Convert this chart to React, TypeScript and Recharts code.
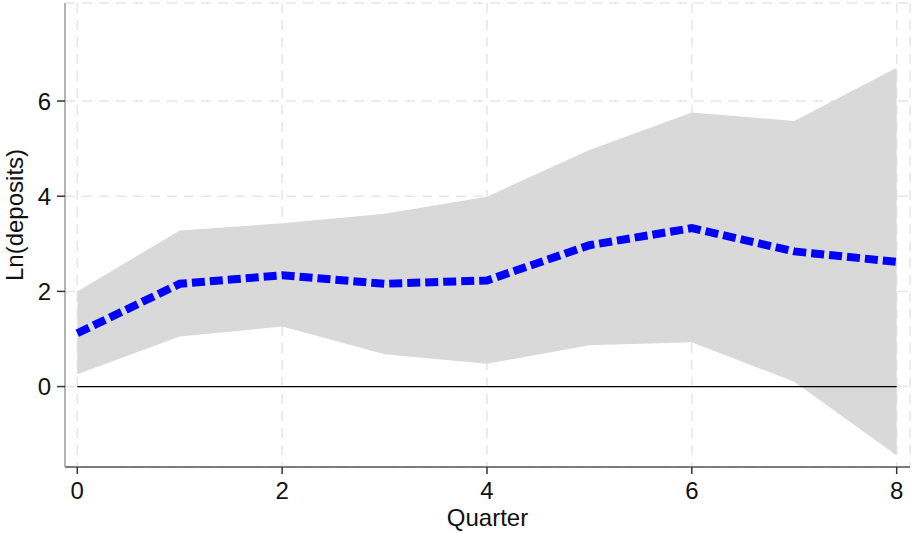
import { Area, CartesianGrid, ComposedChart, Label, Line, ReferenceLine, XAxis, YAxis } from "recharts";

const quarters = [0, 1, 2, 3, 4, 5, 6, 7, 8];
const irf = [1.12, 2.16, 2.34, 2.16, 2.23, 2.97, 3.33, 2.84, 2.62];
const upper = [2.0, 3.28, 3.43, 3.63, 3.99, 4.97, 5.76, 5.58, 6.7];
const lower = [0.26, 1.05, 1.26, 0.68, 0.48, 0.87, 0.93, 0.1, -1.45];

const xTicks = [0, 2, 4, 6, 8];
const yTicks = [0, 2, 4, 6];

const font = "'Liberation Sans', Arial, Helvetica, sans-serif";

const data = quarters.map((q, i) => ({
  q,
  irf: irf[i],
  band: [lower[i], upper[i]],
}));

function YTitle() {
  return (
    <text
      x={14}
      y={215}
      transform="rotate(-90 14 215)"
      textAnchor="middle"
      dominantBaseline="central"
      fontFamily={font}
      fontSize={24}
      fill="#111"
    >
      Ln(deposits)
    </text>
  );
}

export default function App() {
  return (
    <div style={{ position: "absolute", left: 0, top: 0, background: "#fff" }}>
      <ComposedChart width={912} height={533} data={data} margin={{ top: 3, right: 2, bottom: 0, left: 0 }}>
        <CartesianGrid stroke="#e6e6e6" strokeDasharray="10 7" strokeWidth={1.5} />
        <XAxis
          type="number"
          dataKey="q"
          domain={[-0.12, 8.13]}
          ticks={xTicks}
          allowDataOverflow
          height={66}
          axisLine={{ stroke: "#555", strokeWidth: 1.5 }}
          tickLine={{ stroke: "#333", strokeWidth: 1.5 }}
          tickSize={7}
          tickMargin={8}
          tick={{ fill: "#111", fontSize: 24, fontFamily: font }}
        >
          <Label value="Quarter" position="insideBottom" offset={7} fill="#111" fontSize={24} fontFamily={font} />
        </XAxis>
        <YAxis
          type="number"
          domain={[-1.69, 8.06]}
          ticks={yTicks}
          allowDataOverflow
          width={65}
          axisLine={{ stroke: "#b3b3b3", strokeWidth: 2 }}
          tickLine={{ stroke: "#333", strokeWidth: 1.5 }}
          tickSize={8}
          tickMargin={6}
          tick={{ fill: "#111", fontSize: 24, fontFamily: font }}
          label={{ content: <YTitle /> }}
        />
        <Area
          type="linear"
          dataKey="band"
          fill="#d9d9d9"
          fillOpacity={1}
          stroke="none"
          isAnimationActive={false}
        />
        <ReferenceLine
          segment={[
            { x: quarters[0], y: 0 },
            { x: quarters[quarters.length - 1], y: 0 },
          ]}
          stroke="#000"
          strokeWidth={1.2}
        />
        <Line
          type="linear"
          dataKey="irf"
          stroke="#0000ff"
          strokeWidth={8}
          strokeDasharray="13 5"
          dot={false}
          activeDot={false}
          isAnimationActive={false}
        />
      </ComposedChart>
    </div>
  );
}
